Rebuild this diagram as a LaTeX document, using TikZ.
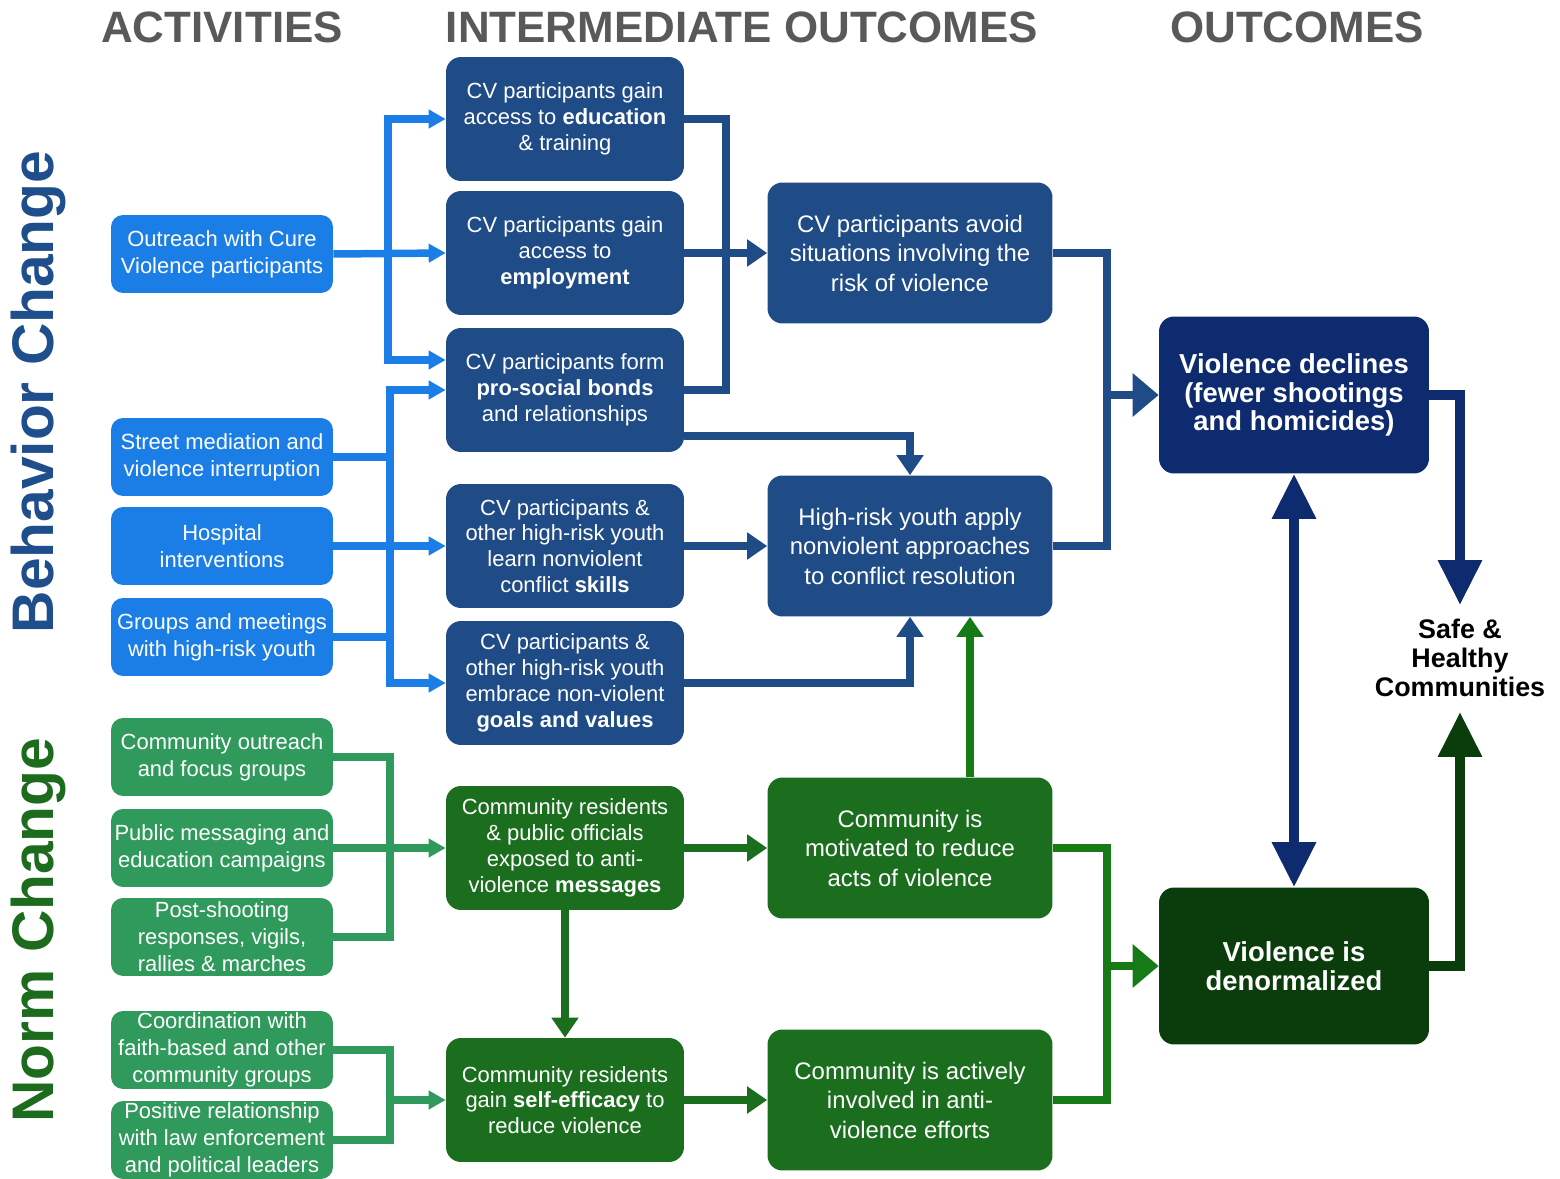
\documentclass[tikz,border=0pt]{standalone}
\usepackage{fontspec}
\setmainfont{Liberation Sans}
\usetikzlibrary{arrows.meta}
\definecolor{actblue}{HTML}{1A7EE6}
\definecolor{midblue}{HTML}{1F4B87}
\definecolor{navy}{HTML}{0D2B6E}
\definecolor{actgreen}{HTML}{2F9A5C}
\definecolor{midgreen}{HTML}{1B6E1E}
\definecolor{dkgreen}{HTML}{0B3D0C}
\definecolor{lnkgreen}{HTML}{167A17}
\definecolor{hdrgray}{HTML}{595959}
\definecolor{bclbl}{HTML}{1F4E8C}
\definecolor{nclbl}{HTML}{1D6B1D}
\tikzset{
  box/.style={rounded corners=0.3cm, text=white, align=center, inner sep=0pt},
  act/.style={box, fill=actblue, rounded corners=0.24cm, minimum width=4.44cm, minimum height=1.56cm, font=\fontsize{12.5}{15.3}\selectfont},
  actg/.style={act, fill=actgreen},
  imb/.style={box, fill=midblue, minimum width=4.76cm, minimum height=2.48cm, font=\fontsize{12.5}{14.7}\selectfont},
  img/.style={imb, fill=midgreen},
  imb2/.style={box, fill=midblue, minimum width=5.7cm, minimum height=2.82cm, font=\fontsize{13.6}{16.8}\selectfont},
  img2/.style={imb2, fill=midgreen},
  outb/.style={box, fill=navy, minimum width=5.4cm, minimum height=3.14cm, font=\bfseries\fontsize{15.6}{16.4}\selectfont},
  outg/.style={outb, fill=dkgreen},
  hdr/.style={text=hdrgray, font=\bfseries\fontsize{25}{28}\selectfont, inner sep=0pt},
  side/.style={rotate=90, font=\bfseries\fontsize{33.4}{40}\selectfont, inner sep=0pt},
  bline/.style={draw=actblue, line width=0.15cm},
  galine/.style={draw=actgreen, line width=0.15cm},
  dline/.style={draw=midblue, line width=0.16cm},
  gline/.style={draw=midgreen, line width=0.16cm},
  lgline/.style={draw=lnkgreen, line width=0.16cm},
  nline/.style={draw=navy, line width=0.19cm},
  dgline/.style={draw=dkgreen, line width=0.19cm},
  tips/.style={-{Triangle[length=0.34cm,width=0.36cm]}},
  tipm/.style={-{Triangle[length=0.4cm,width=0.52cm]}},
  tipbig/.style={-{Triangle[length=0.52cm,width=0.84cm]}},
  tipnav/.style={-{Triangle[length=0.9cm,width=0.84cm]}},
  tipnav2/.style={{Triangle[length=0.9cm,width=0.84cm]}-{Triangle[length=0.9cm,width=0.84cm]}},
}
\begin{document}
\begin{tikzpicture}[x=0.02cm,y=-0.02cm]
\useasboundingbox (0,0) rectangle (1560,1179);

% headers
\node[hdr] (h1) at (222,27) {ACTIVITIES};
\node[hdr] (h2) at (742,27) {INTERMEDIATE OUTCOMES};
\node[hdr] (h3) at (1297,27) {OUTCOMES};

% side labels
\node[side, text=bclbl] (lb) at (38,392) {Behavior Change};
\node[side, text=nclbl] (ln) at (38,930) {Norm Change};

% activities
\node[act] (o1) at (222,254) {Outreach with Cure\\Violence participants};
\node[act] (o2) at (222,457) {Street mediation and\\violence interruption};
\node[act] (o3) at (222,546) {Hospital\\interventions};
\node[act] (o4) at (222,637) {Groups and meetings\\with high-risk youth};
\node[actg] (g1) at (222,757) {Community outreach\\and focus groups};
\node[actg] (g2) at (222,848) {Public messaging and\\education campaigns};
\node[actg] (g3) at (222,937) {Post-shooting\\responses, vigils,\\rallies \& marches};
\node[actg] (g4) at (222,1050) {Coordination with\\faith-based and other\\community groups};
\node[actg] (g5) at (222,1140) {Positive relationship\\with law enforcement\\and political leaders};

% intermediate column 1
\node[imb] (i1) at (565,119) {CV participants gain\\access to \textbf{education}\\\& training};
\node[imb] (i2) at (565,253) {CV participants gain\\access to\\\textbf{employment}};
\node[imb] (i3) at (565,390) {CV participants form\\\textbf{pro-social bonds}\\and relationships};
\node[imb] (i4) at (565,546) {CV participants \&\\other high-risk youth\\learn nonviolent\\conflict \textbf{skills}};
\node[imb] (i5) at (565,683) {CV participants \&\\other high-risk youth\\embrace non-violent\\\textbf{goals and values}};
\node[img] (j1) at (565,848) {Community residents\\\& public officials\\exposed to anti-\\violence \textbf{messages}};
\node[img] (j2) at (565,1100) {Community residents\\gain \textbf{self-efficacy} to\\reduce violence};

% intermediate column 2
\node[imb2] (k1) at (910,253) {CV participants avoid\\situations involving the\\risk of violence};
\node[imb2] (k2) at (910,546) {High-risk youth apply\\nonviolent approaches\\to conflict resolution};
\node[img2] (k3) at (910,848) {Community is\\motivated to reduce\\acts of violence};
\node[img2] (k4) at (910,1100) {Community is actively\\involved in anti-\\violence efforts};

% outcomes
\node[outb] (v1) at (1294,395) {Violence declines\\(fewer shootings\\and homicides)};
\node[outg] (v2) at (1294,966) {Violence is\\denormalized};
\node[font=\bfseries\fontsize{15.3}{16.4}\selectfont, align=center, inner sep=0pt] (s) at (1460,658) {Safe \&\\Healthy\\Communities};

% bus coordinates
\coordinate (busA) at (388,254);
\coordinate (busB) at (390,546);
\coordinate (busC) at (726,253);
\coordinate (busD) at (1107,395);
\coordinate (busE) at (390,848);
\coordinate (busF) at (390,1100);
\coordinate (busG) at (1107,966);
\coordinate (sTop) at (1460,605);
\coordinate (sBot) at (1460,712);

% activity (blue) connectors
\draw[bline,tips] (o1.east) -- (i2.west);
\draw[bline,tips] (busA) |- (i1.west);
\draw[bline,tips] (busA) |- ([yshift=0.6cm]i3.west);
\draw[bline,tips] (o3.east) -- (i4.west);
\draw[bline,tips] (busB) |- (i3.west);
\draw[bline,tips] (busB) |- (i5.west);
\draw[bline] (o2.east) -- (o2.east -| busB);
\draw[bline] (o4.east) -- (o4.east -| busB);

% activity (green) connectors
\draw[galine,tips] (g2.east) -- (j1.west);
\draw[galine] (g1.east) -| (busE);
\draw[galine] (g3.east) -| (busE);
\draw[galine,tips] (busF) -- (j2.west);
\draw[galine] (g4.east) -| (busF);
\draw[galine] (g5.east) -| (busF);

% intermediate blue connectors
\draw[dline,tipm] (i2.east) -- (k1.west);
\draw[dline] (i1.east) -| (busC);
\draw[dline] (i3.east) -| (busC);
\draw[dline,tipm] ([yshift=-0.92cm]i3.east) -| (k2.north);
\draw[dline,tipm] (i4.east) -- (k2.west);
\draw[dline,tipm] (i5.east) -| (k2.south);
\draw[dline] (k1.east) -| (busD);
\draw[dline] (k2.east) -| (busD);
\draw[dline,tipbig] (busD) -- (v1.west);

% intermediate green connectors
\draw[lgline,tipm] ([xshift=1.2cm]k3.north) -- ([xshift=1.2cm]k2.south);
\draw[gline,tipm] (j1.east) -- (k3.west);
\draw[gline,tipm] (j1.south) -- (j2.north);
\draw[gline,tipm] (j2.east) -- (k4.west);
\draw[lgline] (k3.east) -| (busG);
\draw[lgline] (k4.east) -| (busG);
\draw[lgline,tipbig] (busG) -- (v2.west);

% outcome connectors
\draw[nline,tipnav2] (v2.north) -- (v1.south);
\draw[nline,tipnav] (v1.east) -| (sTop);
\draw[dgline,tipnav] (v2.east) -| (sBot);
\end{tikzpicture}
\end{document}
